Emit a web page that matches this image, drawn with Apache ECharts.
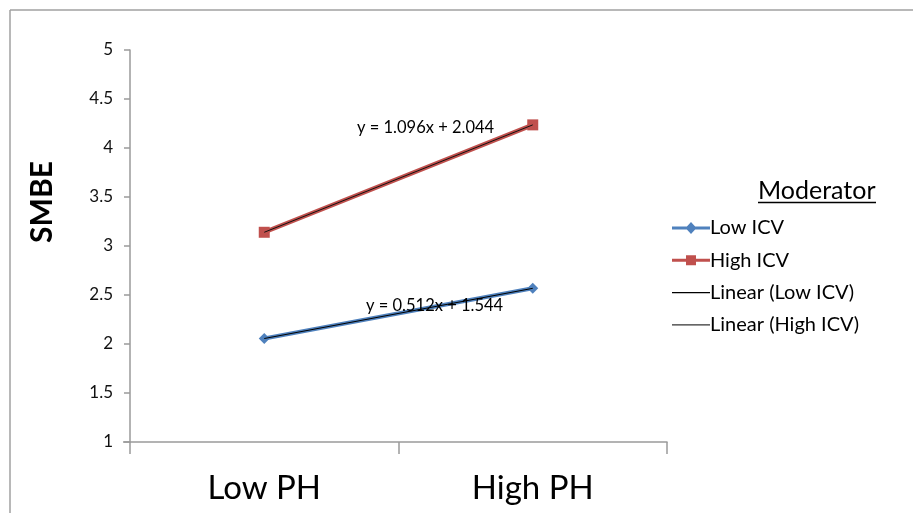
<!DOCTYPE html>
<html>
<head>
<meta charset="utf-8">
<script src="https://cdn.jsdelivr.net/npm/echarts@6/dist/echarts.min.js"></script>
<style>html,body{margin:0;padding:0;background:#fff}#c{width:913px;height:513px}</style>
</head>
<body>
<div id="c"></div>
<script>
var categories = ['Low PH', 'High PH'];
var lowICV = [2.056, 2.568];
var highICV = [3.14, 4.236];
var linearLowICV = [2.056, 2.568];
var linearHighICV = [3.14, 4.236];
var yTicks = [1, 1.5, 2, 2.5, 3, 3.5, 4, 4.5, 5];
var eqLow = 'y = 0.512x + 1.544';
var eqHigh = 'y = 1.096x + 2.044';
var yTitle = 'SMBE';
var legendTitle = 'Moderator';

var FONT = 'Lato';
var AX = '#9a9a9a';
var ICON_DIAMOND = 'path://M0,4.5L14.875,4.5L19,0L23.125,4.5L38,4.5L38,7.5L23.125,7.5L19,12L14.875,7.5L0,7.5Z';
var ICON_SQUARE = 'path://M0,4.5L14,4.5L14,1L24,1L24,4.5L38,4.5L38,7.5L24,7.5L24,11L14,11L14,7.5L0,7.5Z';
var ICON_LINE = 'path://M0,0M38,12M0,5.3L38,5.3L38,6.7L0,6.7Z';

var chart = echarts.init(document.getElementById('c'));
chart.setOption({
  animation: false,
  backgroundColor: '#fff',
  textStyle: { fontFamily: FONT },
  grid: { left: 130, right: 246, top: 50, bottom: 71 },
  xAxis: {
    type: 'category',
    data: categories,
    boundaryGap: true,
    axisLine: { lineStyle: { color: AX, width: 1.5 } },
    axisTick: { show: true, length: 12, lineStyle: { color: AX, width: 1.5 } },
    axisLabel: { fontSize: 33, color: '#000', margin: 30, fontFamily: FONT }
  },
  yAxis: {
    type: 'value',
    min: yTicks[0], max: yTicks[yTicks.length - 1], interval: 0.5,
    axisLine: { show: true, lineStyle: { color: AX, width: 1.5 } },
    axisTick: { show: true, length: 6, lineStyle: { color: AX, width: 1.5 } },
    splitLine: { show: false },
    axisLabel: { fontSize: 17, color: '#111', margin: 17, fontFamily: FONT,
      formatter: function (v) { return String(v); } }
  },
  legend: {
    orient: 'vertical', left: 667, top: 213,
    itemWidth: 38, itemHeight: 12, itemGap: 12.3,
    textStyle: { fontSize: 20, lineHeight: 20, color: '#000', fontFamily: FONT, padding: [0, 0, 0, -5] },
    data: [
      { name: 'Low ICV', icon: ICON_DIAMOND },
      { name: 'High ICV', icon: ICON_SQUARE },
      { name: 'Linear (Low ICV)', icon: ICON_LINE },
      { name: 'Linear (High ICV)', icon: ICON_LINE }
    ]
  },
  series: [
    { name: 'Low ICV', type: 'line', data: lowICV, symbol: 'diamond', symbolSize: 11,
      lineStyle: { color: '#4F81BD', width: 4 }, itemStyle: { color: '#4F81BD' }, z: 2 },
    { name: 'High ICV', type: 'line', data: highICV, symbol: 'rect', symbolSize: 11,
      lineStyle: { color: '#C0504D', width: 4.5 }, itemStyle: { color: '#C0504D' }, z: 2 },
    { name: 'Linear (Low ICV)', type: 'line', data: linearLowICV, symbol: 'none',
      lineStyle: { color: '#000', width: 1 }, itemStyle: { color: '#000' }, z: 3 },
    { name: 'Linear (High ICV)', type: 'line', data: linearHighICV, symbol: 'none',
      lineStyle: { color: '#111', width: 1 }, itemStyle: { color: '#333' }, z: 3 }
  ],
  graphic: [
    { type: 'line', shape: { x1: 10, y1: 10, x2: 913, y2: 10 }, style: { stroke: '#a0a0a0', lineWidth: 1.5 } },
    { type: 'line', shape: { x1: 10, y1: 10, x2: 10, y2: 513 }, style: { stroke: '#a0a0a0', lineWidth: 1.5 } },
    { type: 'line', shape: { x1: 123, y1: 442, x2: 130, y2: 442 }, style: { stroke: AX, lineWidth: 1.5 } },
    { type: 'text', x: 42, y: 202, rotation: Math.PI / 2,
      style: { text: yTitle, fontSize: 30, fontWeight: 'bold', fill: '#000', fontFamily: FONT,
               align: 'center', verticalAlign: 'middle' } },
    { type: 'text', left: 758, top: 178, style: { text: legendTitle, fontSize: 25, fill: '#000', fontFamily: FONT } },
    { type: 'line', shape: { x1: 758, y1: 202.5, x2: 876, y2: 202.5 }, style: { stroke: '#000', lineWidth: 1.5 } },
    { type: 'text', left: 357, top: 119, z: 10, style: { text: eqHigh, fontSize: 16.5, fill: '#000', fontFamily: FONT } },
    { type: 'text', left: 366, top: 297, z: 10, style: { text: eqLow, fontSize: 16.5, fill: '#000', fontFamily: FONT } }
  ]
});
</script>
</body>
</html>
